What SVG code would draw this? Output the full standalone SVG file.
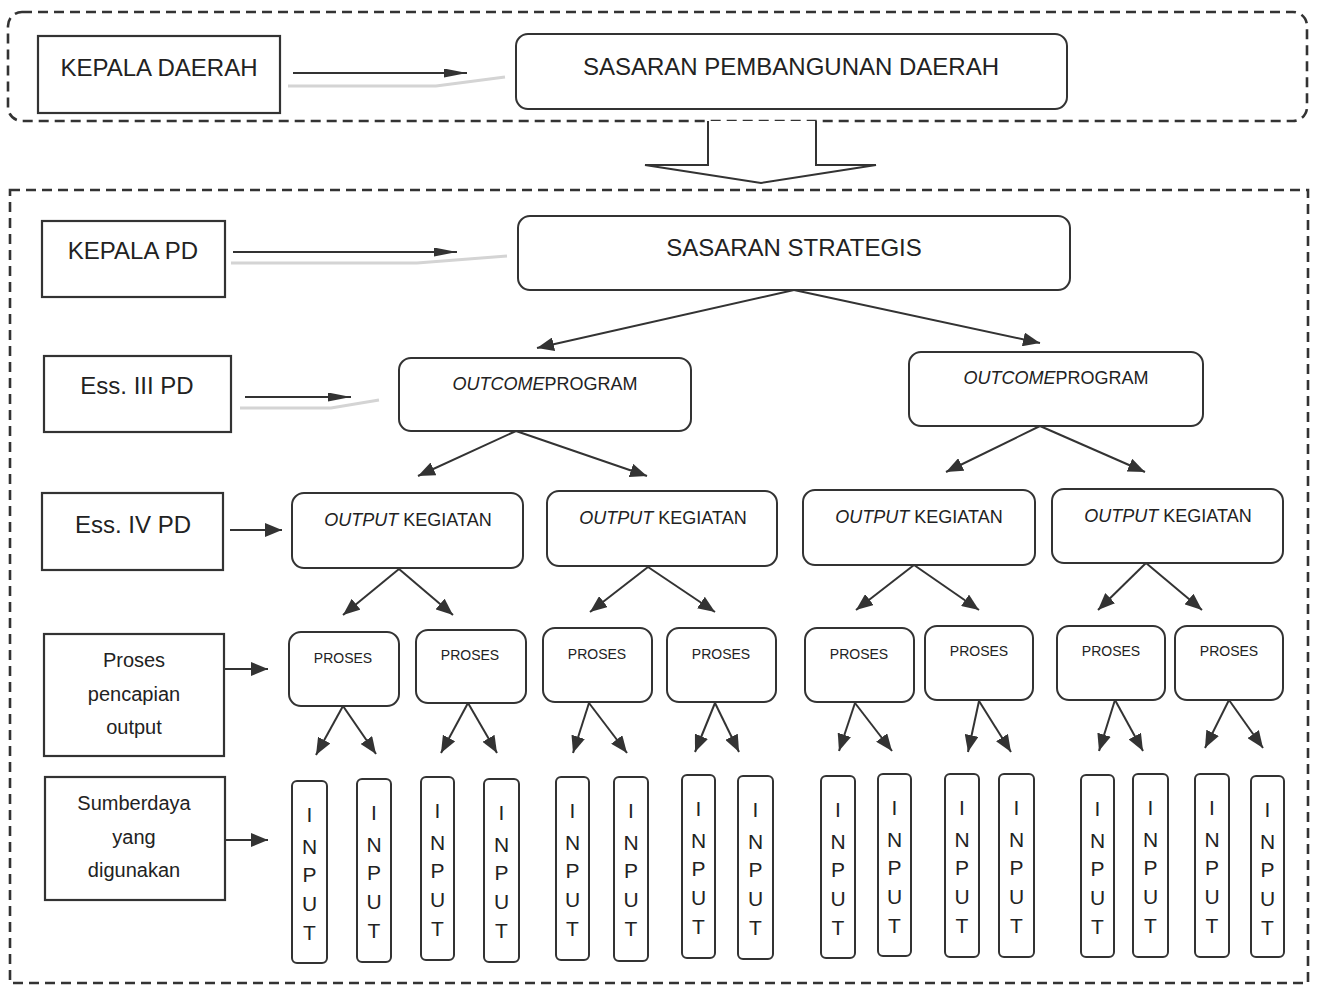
<svg xmlns="http://www.w3.org/2000/svg" width="1317" height="987" viewBox="0 0 1317 987">
<style>
text{font-family:"Liberation Sans",Arial,sans-serif;fill:#222;text-anchor:middle}
.lbl{fill:#fff;stroke:#333;stroke-width:2.2}
.rnd{fill:#fff;stroke:#333;stroke-width:2}
.dash{fill:none;stroke:#333;stroke-width:2.6;stroke-dasharray:10 6}
.big{font-size:24px}
.mid{font-size:18px}
.sm{font-size:14px}
.side{font-size:20px}
.inp{font-size:21px}
.c{stroke:#333;stroke-width:2;fill:none}
.ch{stroke:#333;stroke-width:2;fill:none}
.ghost{stroke:#d4d4d4;stroke-width:3;fill:none}
</style>
<defs>
<marker id="ah" markerUnits="userSpaceOnUse" markerWidth="18" markerHeight="14" refX="17" refY="7" orient="auto">
<path d="M0,0 L17,7 L0,14 z" fill="#333"/>
</marker>
<marker id="ahs" markerUnits="userSpaceOnUse" markerWidth="24" markerHeight="9" refX="23" refY="4.5" orient="auto">
<path d="M0,0 L23,4.5 L0,9 z" fill="#333"/>
</marker>
</defs>
<rect width="1317" height="987" fill="#fff"/>

<g id="frames">
<rect class="dash" x="8" y="12" width="1299" height="109" rx="14"/>
<rect class="dash" x="10" y="190" width="1298" height="793"/>
</g>

<g id="connectors">
<path class="ghost" d="M288,86 L436,86 L505,77"/>
<path class="ghost" d="M231,263 L417,263 L507,256"/>
<path class="ghost" d="M240,408 L331,408 L379,400"/>
<line class="ch" x1="293" y1="73" x2="467" y2="73" marker-end="url(#ahs)"/>
<line class="ch" x1="233" y1="252" x2="457" y2="252" marker-end="url(#ahs)"/>
<line class="ch" x1="245" y1="397" x2="351" y2="397" marker-end="url(#ahs)"/>
<line class="c" x1="230" y1="530" x2="282" y2="530" marker-end="url(#ah)"/>
<line class="c" x1="224" y1="669" x2="268" y2="669" marker-end="url(#ah)"/>
<line class="c" x1="225" y1="840" x2="268" y2="840" marker-end="url(#ah)"/>
<path d="M708,121 L708,165 L645,165 L761,183 L876,165 L816,165 L816,121" fill="#fff" stroke="#333" stroke-width="2"/>
<line class="c" x1="794" y1="290" x2="537" y2="348" marker-end="url(#ah)"/>
<line class="c" x1="794" y1="290" x2="1040" y2="343" marker-end="url(#ah)"/>
<line class="c" x1="516" y1="431" x2="418" y2="476" marker-end="url(#ah)"/>
<line class="c" x1="516" y1="431" x2="647" y2="476" marker-end="url(#ah)"/>
<line class="c" x1="1040" y1="426" x2="946" y2="472" marker-end="url(#ah)"/>
<line class="c" x1="1040" y1="426" x2="1145" y2="472" marker-end="url(#ah)"/>
<line class="c" x1="399" y1="569" x2="343" y2="615" marker-end="url(#ah)"/>
<line class="c" x1="399" y1="569" x2="453" y2="615" marker-end="url(#ah)"/>
<line class="c" x1="648" y1="567" x2="590" y2="612" marker-end="url(#ah)"/>
<line class="c" x1="648" y1="567" x2="715" y2="612" marker-end="url(#ah)"/>
<line class="c" x1="914" y1="565" x2="856" y2="610" marker-end="url(#ah)"/>
<line class="c" x1="914" y1="565" x2="979" y2="610" marker-end="url(#ah)"/>
<line class="c" x1="1146" y1="563" x2="1098" y2="610" marker-end="url(#ah)"/>
<line class="c" x1="1146" y1="563" x2="1202" y2="610" marker-end="url(#ah)"/>
<line class="c" x1="343" y1="706" x2="316" y2="755" marker-end="url(#ah)"/>
<line class="c" x1="343" y1="706" x2="376" y2="754" marker-end="url(#ah)"/>
<line class="c" x1="468" y1="703" x2="441" y2="753" marker-end="url(#ah)"/>
<line class="c" x1="468" y1="703" x2="497" y2="753" marker-end="url(#ah)"/>
<line class="c" x1="589" y1="703" x2="573" y2="753" marker-end="url(#ah)"/>
<line class="c" x1="589" y1="703" x2="627" y2="753" marker-end="url(#ah)"/>
<line class="c" x1="715" y1="703" x2="695" y2="752" marker-end="url(#ah)"/>
<line class="c" x1="715" y1="703" x2="739" y2="752" marker-end="url(#ah)"/>
<line class="c" x1="855" y1="703" x2="839" y2="751" marker-end="url(#ah)"/>
<line class="c" x1="855" y1="703" x2="892" y2="751" marker-end="url(#ah)"/>
<line class="c" x1="979" y1="701" x2="968" y2="752" marker-end="url(#ah)"/>
<line class="c" x1="979" y1="701" x2="1011" y2="752" marker-end="url(#ah)"/>
<line class="c" x1="1115" y1="700" x2="1099" y2="751" marker-end="url(#ah)"/>
<line class="c" x1="1115" y1="700" x2="1143" y2="751" marker-end="url(#ah)"/>
<line class="c" x1="1229" y1="700" x2="1205" y2="748" marker-end="url(#ah)"/>
<line class="c" x1="1229" y1="700" x2="1263" y2="748" marker-end="url(#ah)"/>
</g>

<g id="kepala-daerah"><rect class="lbl" x="38" y="36" width="242" height="77"/><text class="big" x="159" y="76">KEPALA DAERAH</text></g>
<g id="sasaran-pembangunan"><rect class="rnd" x="516" y="34" width="551" height="75" rx="12"/><text class="big" x="791" y="75">SASARAN PEMBANGUNAN DAERAH</text></g>

<g id="kepala-pd"><rect class="lbl" x="42" y="221" width="183" height="76"/><text class="big" x="133" y="259">KEPALA PD</text></g>
<g id="sasaran-strategis"><rect class="rnd" x="518" y="216" width="552" height="74" rx="12"/><text class="big" x="794" y="256">SASARAN STRATEGIS</text></g>

<g id="ess3"><rect class="lbl" x="44" y="356" width="187" height="76"/><text class="big" x="137" y="394">Ess. III PD</text></g>
<g id="ess4"><rect class="lbl" x="42" y="493" width="181" height="77"/><text class="big" x="133" y="533">Ess. IV PD</text></g>
<g id="proses-label"><rect class="lbl" x="44" y="634" width="180" height="122"/><text class="side" x="134" y="667">Proses</text><text class="side" x="134" y="701">pencapian</text><text class="side" x="134" y="734">output</text></g>
<g id="sumberdaya-label"><rect class="lbl" x="45" y="777" width="180" height="123"/><text class="side" x="134" y="810">Sumberdaya</text><text class="side" x="134" y="844">yang</text><text class="side" x="134" y="877">digunakan</text></g>

<g id="outcome-1"><rect class="rnd" x="399" y="358" width="292" height="73" rx="12"/><text class="mid" x="545" y="390"><tspan font-style="italic">OUTCOME</tspan>PROGRAM</text></g>
<g id="outcome-2"><rect class="rnd" x="909" y="352" width="294" height="74" rx="12"/><text class="mid" x="1056" y="384"><tspan font-style="italic">OUTCOME</tspan>PROGRAM</text></g>

<g id="output-1"><rect class="rnd" x="292" y="493" width="231" height="75" rx="12"/><text class="mid" x="408" y="526"><tspan font-style="italic">OUTPUT</tspan> KEGIATAN</text></g>
<g id="output-2"><rect class="rnd" x="547" y="491" width="230" height="75" rx="12"/><text class="mid" x="663" y="524"><tspan font-style="italic">OUTPUT</tspan> KEGIATAN</text></g>
<g id="output-3"><rect class="rnd" x="803" y="490" width="232" height="75" rx="12"/><text class="mid" x="919" y="523"><tspan font-style="italic">OUTPUT</tspan> KEGIATAN</text></g>
<g id="output-4"><rect class="rnd" x="1052" y="489" width="231" height="74" rx="12"/><text class="mid" x="1168" y="522"><tspan font-style="italic">OUTPUT</tspan> KEGIATAN</text></g>

<g id="proses-1"><rect class="rnd" x="289" y="632" width="110" height="74" rx="12"/><text class="sm" x="343" y="663">PROSES</text></g>
<g id="proses-2"><rect class="rnd" x="416" y="630" width="110" height="73" rx="12"/><text class="sm" x="470" y="660">PROSES</text></g>
<g id="proses-3"><rect class="rnd" x="543" y="628" width="109" height="74" rx="12"/><text class="sm" x="597" y="659">PROSES</text></g>
<g id="proses-4"><rect class="rnd" x="667" y="628" width="109" height="74" rx="12"/><text class="sm" x="721" y="659">PROSES</text></g>
<g id="proses-5"><rect class="rnd" x="805" y="628" width="109" height="74" rx="12"/><text class="sm" x="859" y="659">PROSES</text></g>
<g id="proses-6"><rect class="rnd" x="925" y="626" width="108" height="74" rx="12"/><text class="sm" x="979" y="656">PROSES</text></g>
<g id="proses-7"><rect class="rnd" x="1057" y="626" width="108" height="74" rx="12"/><text class="sm" x="1111" y="656">PROSES</text></g>
<g id="proses-8"><rect class="rnd" x="1175" y="626" width="108" height="74" rx="12"/><text class="sm" x="1229" y="656">PROSES</text></g>

<g id="input-1"><rect class="rnd" x="292" y="781" width="35" height="182" rx="5"/><text class="inp" x="309.5"><tspan x="309.5" y="822">I</tspan><tspan x="309.5" y="854">N</tspan><tspan x="309.5" y="882">P</tspan><tspan x="309.5" y="911">U</tspan><tspan x="309.5" y="940">T</tspan></text></g>
<g id="input-2"><rect class="rnd" x="357" y="779" width="34" height="183" rx="5"/><text class="inp" x="374"><tspan x="374" y="820">I</tspan><tspan x="374" y="852">N</tspan><tspan x="374" y="880">P</tspan><tspan x="374" y="909">U</tspan><tspan x="374" y="938">T</tspan></text></g>
<g id="input-3"><rect class="rnd" x="421" y="777" width="33" height="183" rx="5"/><text class="inp" x="437.5"><tspan x="437.5" y="818">I</tspan><tspan x="437.5" y="850">N</tspan><tspan x="437.5" y="878">P</tspan><tspan x="437.5" y="907">U</tspan><tspan x="437.5" y="936">T</tspan></text></g>
<g id="input-4"><rect class="rnd" x="484" y="779" width="35" height="183" rx="5"/><text class="inp" x="501.5"><tspan x="501.5" y="820">I</tspan><tspan x="501.5" y="852">N</tspan><tspan x="501.5" y="880">P</tspan><tspan x="501.5" y="909">U</tspan><tspan x="501.5" y="938">T</tspan></text></g>
<g id="input-5"><rect class="rnd" x="556" y="777" width="33" height="183" rx="5"/><text class="inp" x="572.5"><tspan x="572.5" y="818">I</tspan><tspan x="572.5" y="850">N</tspan><tspan x="572.5" y="878">P</tspan><tspan x="572.5" y="907">U</tspan><tspan x="572.5" y="936">T</tspan></text></g>
<g id="input-6"><rect class="rnd" x="614" y="777" width="34" height="184" rx="5"/><text class="inp" x="631"><tspan x="631" y="818">I</tspan><tspan x="631" y="850">N</tspan><tspan x="631" y="878">P</tspan><tspan x="631" y="907">U</tspan><tspan x="631" y="936">T</tspan></text></g>
<g id="input-7"><rect class="rnd" x="682" y="775" width="33" height="183" rx="5"/><text class="inp" x="698.5"><tspan x="698.5" y="816">I</tspan><tspan x="698.5" y="848">N</tspan><tspan x="698.5" y="876">P</tspan><tspan x="698.5" y="905">U</tspan><tspan x="698.5" y="934">T</tspan></text></g>
<g id="input-8"><rect class="rnd" x="738" y="776" width="35" height="183" rx="5"/><text class="inp" x="755.5"><tspan x="755.5" y="817">I</tspan><tspan x="755.5" y="849">N</tspan><tspan x="755.5" y="877">P</tspan><tspan x="755.5" y="906">U</tspan><tspan x="755.5" y="935">T</tspan></text></g>
<g id="input-9"><rect class="rnd" x="821" y="776" width="34" height="182" rx="5"/><text class="inp" x="838"><tspan x="838" y="817">I</tspan><tspan x="838" y="849">N</tspan><tspan x="838" y="877">P</tspan><tspan x="838" y="906">U</tspan><tspan x="838" y="935">T</tspan></text></g>
<g id="input-10"><rect class="rnd" x="878" y="774" width="33" height="182" rx="5"/><text class="inp" x="894.5"><tspan x="894.5" y="815">I</tspan><tspan x="894.5" y="847">N</tspan><tspan x="894.5" y="875">P</tspan><tspan x="894.5" y="904">U</tspan><tspan x="894.5" y="933">T</tspan></text></g>
<g id="input-11"><rect class="rnd" x="945" y="774" width="34" height="183" rx="5"/><text class="inp" x="962"><tspan x="962" y="815">I</tspan><tspan x="962" y="847">N</tspan><tspan x="962" y="875">P</tspan><tspan x="962" y="904">U</tspan><tspan x="962" y="933">T</tspan></text></g>
<g id="input-12"><rect class="rnd" x="999" y="774" width="35" height="183" rx="5"/><text class="inp" x="1016.5"><tspan x="1016.5" y="815">I</tspan><tspan x="1016.5" y="847">N</tspan><tspan x="1016.5" y="875">P</tspan><tspan x="1016.5" y="904">U</tspan><tspan x="1016.5" y="933">T</tspan></text></g>
<g id="input-13"><rect class="rnd" x="1081" y="775" width="33" height="182" rx="5"/><text class="inp" x="1097.5"><tspan x="1097.5" y="816">I</tspan><tspan x="1097.5" y="848">N</tspan><tspan x="1097.5" y="876">P</tspan><tspan x="1097.5" y="905">U</tspan><tspan x="1097.5" y="934">T</tspan></text></g>
<g id="input-14"><rect class="rnd" x="1133" y="774" width="35" height="183" rx="5"/><text class="inp" x="1150.5"><tspan x="1150.5" y="815">I</tspan><tspan x="1150.5" y="847">N</tspan><tspan x="1150.5" y="875">P</tspan><tspan x="1150.5" y="904">U</tspan><tspan x="1150.5" y="933">T</tspan></text></g>
<g id="input-15"><rect class="rnd" x="1195" y="774" width="34" height="183" rx="5"/><text class="inp" x="1212"><tspan x="1212" y="815">I</tspan><tspan x="1212" y="847">N</tspan><tspan x="1212" y="875">P</tspan><tspan x="1212" y="904">U</tspan><tspan x="1212" y="933">T</tspan></text></g>
<g id="input-16"><rect class="rnd" x="1251" y="776" width="33" height="181" rx="5"/><text class="inp" x="1267.5"><tspan x="1267.5" y="817">I</tspan><tspan x="1267.5" y="849">N</tspan><tspan x="1267.5" y="877">P</tspan><tspan x="1267.5" y="906">U</tspan><tspan x="1267.5" y="935">T</tspan></text></g>
</svg>
